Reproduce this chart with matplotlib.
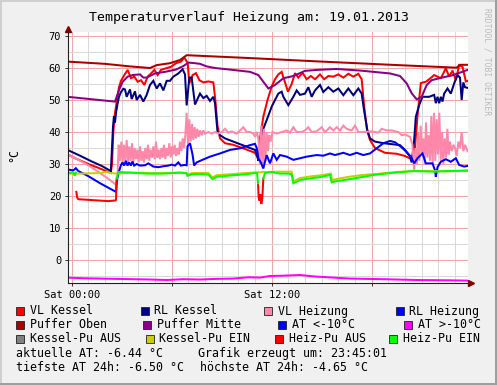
import matplotlib
matplotlib.use('Agg')
import matplotlib.pyplot as plt
import numpy as np
from matplotlib.patches import Rectangle
from matplotlib.ticker import MultipleLocator

nan = np.nan

# Stunden ab 19.01.2013 00:00, Temperatur in °C
vl_kessel = [(-0.25, 33.0), (0.3, 31.6), (1.0, 30.0), (1.7, 28.6), (2.35, 27.2), (2.42, 30.0), (2.5, 40.0),
             (2.6, 46.0), (2.72, 50.0), (2.84, 54.0), (2.96, 56.0), (3.16, 57.8), (3.36, 59.4), (3.56, 56.8),
             (3.76, 57.3), (3.96, 55.7), (4.16, 56.2), (4.36, 54.7), (4.56, 57.3), (4.76, 58.3), (4.96, 59.4),
             (5.16, 57.8), (5.36, 59.4), (5.66, 59.9), (5.96, 60.4), (6.26, 61.5), (6.56, 62.0), (6.76, 63.3),
             (6.96, 61.5), (7.06, 55.2), (7.26, 57.8), (7.46, 58.4), (7.66, 56.2), (7.9, 55.5), (8.2, 55.8),
             (8.5, 55.5), (8.62, 50.0), (8.75, 42.0), (8.9, 38.0), (9.2, 36.5), (9.7, 36.0), (10.5, 34.5),
             (11.0, 33.5), (11.15, 32.0), (11.3, 38.0), (11.5, 44.8), (11.75, 50.0), (12.0, 54.2), (12.2, 56.5),
             (12.4, 58.0), (12.6, 58.8), (12.8, 55.5), (12.98, 52.6), (13.2, 55.0), (13.4, 58.4), (13.6, 57.0),
             (13.85, 58.5), (14.1, 56.5), (14.35, 57.5), (14.6, 56.5), (14.9, 58.0), (15.15, 56.5), (15.4, 57.5),
             (15.7, 57.3), (16.0, 58.0), (16.3, 57.0), (16.6, 58.2), (16.9, 57.3), (17.2, 58.2), (17.4, 56.5),
             (17.55, 48.0), (17.72, 40.6), (17.9, 37.5), (18.2, 35.0), (18.8, 33.5), (19.5, 33.2), (20.0, 32.5),
             (20.4, 31.5), (20.6, 35.0), (20.75, 45.0), (20.95, 55.3), (21.25, 55.7), (21.55, 56.9), (21.75, 57.8),
             (22.15, 56.8), (22.45, 59.9), (22.65, 57.3), (22.85, 59.2), (23.05, 56.2), (23.25, 60.9), (23.45, 60.4),
             (23.65, 55.8), (23.75, 56.0)]

rl_kessel = [(-0.25, 34.4), (0.5, 32.6), (1.2, 30.8), (1.8, 29.4), (2.35, 27.8), (2.42, 35.0), (2.48, 41.7),
             (2.54, 45.0), (2.6, 43.0), (2.66, 46.0), (2.76, 49.0), (2.84, 51.0), (2.96, 52.5), (3.1, 53.5),
             (3.2, 53.3), (3.3, 51.0), (3.5, 53.3), (3.6, 50.3), (3.8, 52.7), (3.9, 50.0), (4.1, 51.6), (4.3, 49.5),
             (4.5, 51.6), (4.7, 54.7), (4.9, 56.0), (5.1, 53.6), (5.3, 55.2), (5.5, 53.0), (5.7, 56.0), (5.9, 56.0),
             (6.1, 57.3), (6.4, 58.3), (6.66, 59.6), (6.8, 58.0), (6.9, 48.3), (7.06, 57.0), (7.2, 57.0),
             (7.4, 48.6), (7.7, 52.0), (7.9, 50.6), (8.1, 51.3), (8.3, 49.7), (8.5, 51.0), (8.6, 49.0), (8.75, 40.0),
             (8.9, 39.0), (9.2, 38.0), (9.7, 37.0), (10.5, 35.4), (11.0, 34.4), (11.15, 32.3), (11.2, 31.0),
             (11.3, 36.5), (11.5, 41.0), (11.7, 43.7), (12.0, 47.9), (12.2, 50.0), (12.4, 52.0), (12.6, 52.6),
             (12.7, 51.0), (13.0, 48.4), (13.3, 51.0), (13.5, 53.0), (13.7, 51.6), (14.0, 52.0), (14.2, 54.0),
             (14.4, 51.0), (14.6, 53.0), (14.9, 54.7), (15.1, 52.5), (15.4, 54.0), (15.7, 52.6), (16.0, 53.6),
             (16.3, 51.5), (16.6, 53.6), (16.9, 51.5), (17.2, 53.6), (17.4, 52.0), (17.54, 46.9), (17.74, 40.6),
             (17.9, 38.0), (18.2, 37.0), (18.7, 36.5), (19.7, 35.9), (20.0, 34.4), (20.3, 32.3), (20.4, 30.5),
             (20.55, 37.5), (20.65, 44.8), (20.85, 48.4), (21.05, 51.0), (21.45, 51.0), (21.75, 51.6), (21.85, 49.0),
             (21.95, 51.0), (22.05, 49.0), (22.15, 51.0), (22.25, 49.5), (22.35, 52.0), (22.55, 53.6), (22.75, 52.0),
             (22.95, 55.2), (23.15, 57.8), (23.3, 57.0), (23.4, 50.0), (23.5, 55.5), (23.6, 54.0), (23.75, 53.8)]

vl_heizung = [(-0.25, 33.0), (0.3, 31.6), (1.0, 29.6), (1.7, 27.2), (2.3, 25.0), (2.66, 23.5), (2.75, 26.0),
              (2.82, 36.0), (2.9, 31.0), (2.98, 37.0), (3.06, 30.5), (3.14, 36.0), (3.22, 31.0), (3.3, 37.5),
              (3.38, 30.5), (3.46, 35.5), (3.54, 31.0), (3.62, 36.5), (3.7, 30.5), (3.78, 35.0), (3.86, 31.5),
              (3.94, 34.5), (4.02, 30.5), (4.1, 35.5), (4.18, 31.0), (4.26, 34.0), (4.34, 30.5), (4.42, 35.0),
              (4.5, 31.5), (4.58, 36.0), (4.66, 31.0), (4.74, 34.5), (4.82, 32.0), (4.9, 35.5), (4.98, 31.5),
              (5.06, 37.0), (5.14, 32.0), (5.22, 34.5), (5.3, 31.5), (5.38, 35.0), (5.46, 32.0), (5.54, 36.0),
              (5.62, 31.5), (5.7, 35.0), (5.78, 32.5), (5.86, 36.5), (5.94, 32.0), (6.02, 35.5), (6.1, 33.0),
              (6.18, 36.0), (6.26, 32.5), (6.34, 35.0), (6.42, 33.0), (6.5, 37.0), (6.58, 34.0), (6.66, 38.0),
              (6.74, 35.0), (6.82, 39.0), (6.9, 46.0), (6.98, 36.0), (7.06, 44.0), (7.14, 37.0), (7.22, 42.5),
              (7.3, 37.5), (7.38, 41.5), (7.46, 38.0), (7.54, 41.0), (7.62, 38.5), (7.7, 40.5), (7.8, 39.0),
              (7.9, 40.5), (8.0, 39.5), (8.2, 40.0), (8.4, 39.5), (8.6, 40.0), (8.8, 39.5), (9.0, 40.0), (9.2, 41.0),
              (9.4, 39.8), (9.6, 40.2), (9.9, 39.5), (10.1, 40.5), (10.3, 41.5), (10.5, 40.0), (10.7, 40.0),
              (10.9, 39.5), (11.0, 38.5), (11.1, 40.0), (11.2, 38.0), (11.3, 30.0), (11.38, 42.0), (11.46, 29.0),
              (11.54, 41.0), (11.62, 31.0), (11.7, 40.0), (11.78, 34.0), (11.86, 39.0), (11.94, 37.0), (12.05, 40.0),
              (12.3, 39.5), (12.6, 40.0), (12.9, 40.5), (13.1, 39.8), (13.3, 41.5), (13.5, 40.0), (13.8, 40.0),
              (14.0, 40.5), (14.2, 41.5), (14.4, 40.0), (14.7, 40.2), (15.0, 41.5), (15.2, 40.0), (15.5, 41.5),
              (15.7, 40.5), (15.9, 41.5), (16.1, 40.5), (16.3, 42.0), (16.5, 41.0), (16.8, 40.5), (17.0, 42.0),
              (17.2, 40.0), (17.5, 40.0), (18.0, 40.2), (18.4, 39.8), (18.6, 41.0), (18.9, 40.5), (19.2, 40.5),
              (19.6, 40.0), (19.8, 39.0), (20.0, 39.2), (20.3, 38.5), (20.45, 36.0), (20.55, 28.0), (20.62, 35.0),
              (20.7, 30.0), (20.78, 40.0), (20.86, 31.0), (20.94, 42.0), (21.02, 33.0), (21.1, 38.0), (21.18, 30.0),
              (21.26, 43.0), (21.34, 32.0), (21.42, 39.0), (21.5, 31.0), (21.58, 45.0), (21.66, 30.0), (21.74, 46.0),
              (21.82, 31.0), (21.9, 44.0), (21.98, 33.0), (22.06, 46.0), (22.14, 31.0), (22.22, 40.0), (22.3, 30.0),
              (22.38, 38.0), (22.46, 32.0), (22.54, 41.0), (22.62, 33.0), (22.7, 37.0), (22.8, 34.0), (22.9, 36.0),
              (23.0, 35.0), (23.1, 32.5), (23.2, 37.0), (23.3, 35.0), (23.4, 40.0), (23.5, 34.0), (23.6, 36.0),
              (23.75, 34.0)]

rl_heizung = [(-0.25, 28.3), (0.1, 28.0), (0.25, 28.7), (0.4, 27.8), (1.0, 26.2), (1.7, 24.0), (2.3, 22.3),
              (2.66, 21.3), (2.72, 25.0), (2.8, 27.0), (2.96, 29.7), (3.05, 30.5), (3.15, 29.5), (3.25, 31.0),
              (3.35, 29.5), (3.45, 30.5), (3.55, 29.5), (3.65, 30.8), (3.75, 29.5), (3.9, 30.0), (4.1, 29.5),
              (4.4, 29.6), (4.6, 30.2), (4.9, 29.2), (5.2, 29.0), (5.5, 29.3), (5.8, 29.5), (6.0, 29.8), (6.2, 29.5),
              (6.4, 30.5), (6.55, 29.5), (6.75, 29.7), (6.9, 29.6), (6.95, 35.5), (7.1, 36.5), (7.25, 33.0),
              (7.35, 29.5), (7.5, 30.5), (7.8, 31.2), (8.3, 32.3), (8.9, 33.3), (9.5, 34.4), (10.1, 34.9),
              (10.7, 35.9), (11.0, 36.3), (11.1, 35.0), (11.2, 31.8), (11.35, 30.5), (11.5, 28.6), (11.7, 32.8),
              (11.9, 30.2), (12.1, 33.3), (12.3, 31.3), (12.5, 32.8), (12.9, 32.3), (13.3, 31.3), (13.7, 31.8),
              (14.1, 32.3), (14.7, 32.8), (15.1, 32.6), (15.5, 33.3), (15.8, 32.8), (16.3, 33.5), (16.7, 32.8),
              (17.1, 33.5), (17.5, 32.8), (17.9, 33.3), (18.3, 34.9), (18.7, 36.5), (19.1, 37.2), (19.4, 36.8),
              (19.75, 35.4), (20.05, 34.0), (20.35, 32.3), (20.55, 30.2), (20.75, 31.8), (21.05, 33.3),
              (21.25, 30.2), (21.65, 30.2), (21.8, 28.0), (21.85, 26.0), (21.95, 29.0), (22.15, 30.7),
              (22.45, 31.5), (22.75, 30.7), (23.05, 31.8), (23.25, 29.7), (23.55, 29.2), (23.75, 29.4)]

puffer_oben = [(-0.25, 62.0), (2.0, 61.3), (3.5, 60.5), (4.7, 60.0), (5.1, 60.9), (5.9, 61.5), (6.5, 62.5),
               (6.9, 64.0), (10.7, 63.1), (15.0, 62.0), (20.0, 60.8), (23.1, 60.1), (23.3, 61.0), (23.75, 61.0)]

puffer_mitte = [(-0.25, 51.0), (2.6, 49.5), (2.84, 53.1), (3.06, 55.7), (3.36, 57.3), (3.66, 57.8), (4.1, 58.0),
                (4.3, 57.0), (4.5, 57.0), (5.0, 58.3), (5.6, 58.8), (6.25, 59.5), (6.7, 60.6), (7.0, 61.7),
                (7.4, 61.5), (7.7, 61.3), (8.1, 60.5), (8.6, 60.0), (9.5, 59.5), (10.7, 58.8), (11.2, 57.8),
                (11.5, 55.7), (11.8, 53.6), (12.2, 54.7), (12.7, 56.8), (13.3, 57.5), (14.0, 59.1), (14.7, 59.4),
                (15.9, 59.7), (17.3, 59.2), (19.1, 58.3), (19.7, 57.5), (20.1, 55.2), (20.4, 52.1), (20.7, 50.2),
                (21.0, 51.0), (21.3, 54.7), (21.6, 56.2), (22.3, 57.1), (22.9, 57.8), (23.75, 59.4)]

at_unter_10 = []

at_ueber_10 = [(-0.25, -5.5), (0.7, -5.7), (1.7, -5.8), (2.7, -5.9), (3.7, -6.0), (4.7, -6.1), (5.7, -6.25),
               (6.7, -6.0), (7.7, -6.1), (8.7, -5.9), (9.7, -5.8), (10.6, -5.4), (11.3, -5.5), (11.9, -5.0),
               (12.7, -4.9), (13.7, -4.7), (14.7, -5.2), (15.7, -5.5), (16.7, -5.8), (18.7, -6.0), (20.7, -6.25),
               (22.7, -6.35), (23.75, -6.44)]

kessel_pu_aus = []

kessel_pu_ein = [(-0.25, 27.0), (0.5, 27.0), (1.2, 27.1), (1.8, 27.2), (2.1, 27.6), (2.3, 27.2), (2.7, 27.0),
                 (3.5, 27.3), (5.0, 27.1), (6.5, 27.3), (6.9, 27.2), (6.95, 26.8), (7.3, 27.2), (8.2, 27.2),
                 (8.45, 25.8), (8.7, 26.5), (9.5, 26.8), (10.5, 27.2), (11.2, 27.4), (11.6, 27.5), (12.5, 27.6),
                 (13.2, 27.6), (13.3, 24.6), (13.7, 25.6), (14.3, 26.1), (15.0, 26.5), (15.55, 27.0), (15.62, 25.0),
                 (16.5, 25.9), (17.5, 26.6), (18.5, 27.0), (19.5, 27.5), (20.5, 27.8), (21.5, 27.8), (22.5, 27.7),
                 (23.75, 28.0)]

heiz_pu_aus = [(0.28, 21.3), (0.33, 19.5), (0.4, 19.0), (1.0, 18.8), (1.6, 18.6), (2.2, 18.4), (2.62, 18.6),
               (2.66, 18.8), (2.7, 25.5), (2.72, nan), (11.18, 24.0), (11.22, 19.5), (11.28, 18.5),
               (11.32, 20.5), (11.38, 17.5), (11.44, 19.5), (11.5, 25.5)]

heiz_pu_ein = [(-0.25, 27.3), (0.1, 27.3), (0.18, 26.3), (0.25, 27.3), (0.28, nan), (2.72, 25.5), (2.8, 27.5),
               (3.5, 27.3), (4.5, 27.0), (5.5, 27.0), (6.5, 27.3), (6.88, 27.1), (6.95, 26.3), (7.2, 26.8),
               (7.6, 26.9), (8.2, 26.7), (8.45, 25.3), (8.7, 26.0), (9.5, 26.4), (10.5, 26.8), (11.0, 27.2),
               (11.12, 27.2), (11.18, 24.0), (11.2, nan), (11.5, 25.5), (11.6, 27.2), (12.0, 27.5), (12.5, 27.0),
               (13.0, 27.0), (13.2, 26.8), (13.3, 24.0), (13.7, 25.0), (14.3, 25.5), (14.9, 25.9), (15.5, 26.6),
               (15.6, 24.3), (15.75, 24.5), (16.95, 25.5), (18.15, 26.6), (19.35, 27.3), (20.55, 27.8),
               (21.75, 27.6), (22.5, 27.8), (23.75, 27.9)]

labels = ['VL Kessel', 'RL Kessel', 'VL Heizung', 'RL Heizung',
          'Puffer Oben', 'Puffer Mitte', 'AT <-10°C', 'AT >-10°C',
          'Kessel-Pu AUS', 'Kessel-Pu EIN', 'Heiz-Pu AUS', 'Heiz-Pu EIN']
series = [vl_kessel, rl_kessel, vl_heizung, rl_heizung,
          puffer_oben, puffer_mitte, at_unter_10, at_ueber_10,
          kessel_pu_aus, kessel_pu_ein, heiz_pu_aus, heiz_pu_ein]
colors = ['#FF0000', '#000080', '#FF88AA', '#0000FF',
          '#AA0000', '#880088', '#0000FF', '#FF00FF',
          '#808080', '#CCCC00', '#FF0000', '#00FF00']

datum = '19.01.2013'
erzeugt = '23:45:01'
at_aktuell, at_min, at_max = -6.44, -6.50, -4.65

W, H = 497, 385
mono = 'DejaVu Sans Mono'
plt.rcParams['font.family'] = mono

fig = plt.figure(figsize=(W / 100, H / 100), dpi=100, facecolor='#F0F0F0')

# 3D-Rahmen wie rrdtool
for x0, y0, w, h, c in [(0, H - 2, W, 2, '#CFCFCF'), (0, 0, 2, H, '#CFCFCF'),
                        (0, 0, W, 2, '#9E9E9E'), (W - 2, 0, 2, H, '#9E9E9E')]:
    fig.add_artist(Rectangle((x0 / W, y0 / H), w / W, h / H, transform=fig.transFigure,
                             facecolor=c, edgecolor='none'))

left, right, top, bottom = 67.5, 467.5, 32.0, 283.3
ax = fig.add_axes([left / W, 1 - bottom / H, (right - left) / W, (bottom - top) / H])
ax.set_facecolor('white')
ax.set_xlim(-0.25, 23.75)
ax.set_ylim(-(bottom - 260) / 3.2, (260 - top) / 3.2)

# Gitter
ax.xaxis.set_minor_locator(MultipleLocator(1))
ax.yaxis.set_minor_locator(MultipleLocator(5))
ax.set_xticks([0, 6, 12, 18])
ax.set_xticklabels(['Sat 00:00', '', 'Sat 12:00', ''])
ax.set_yticks(np.arange(0, 71, 10))
ax.grid(which='minor', color='#D9D9D9', lw=0.75)
ax.grid(which='major', color='#F2A8A8', lw=0.75)
ax.set_axisbelow(True)
ax.tick_params(which='major', length=2, width=0.7, labelsize=7.5, pad=2.5, color='#303030')
ax.tick_params(which='minor', length=0)
for s in ['top', 'right']:
    ax.spines[s].set_visible(False)
for s in ['left', 'bottom']:
    ax.spines[s].set_color('#202020')
    ax.spines[s].set_linewidth(0.8)

for data, c in zip(series, colors):
    if not data:
        continue
    t, v = zip(*data)
    ax.plot(t, v, color=c, lw=1.45, solid_joinstyle='miter')

# Pfeile an den Achsen
ax.plot([1.0075], [0], marker='>', ms=4.5, color='#800000', transform=ax.transAxes, clip_on=False)
ax.plot([0], [1.013], marker='^', ms=4.5, color='#800000', transform=ax.transAxes, clip_on=False)

fig.text(249 / W, 1 - 17 / H, 'Temperaturverlauf Heizung am: ' + datum, ha='center', va='center',
         fontsize=9.5, color='#000000')
fig.text(14 / W, 1 - 155 / H, '°C', rotation=90, ha='center', va='center', fontsize=8.4)
fig.text(487 / W, 1 - 62 / H, 'RRDTOOL / TOBI OETIKER', rotation=270, ha='center', va='center',
         fontsize=5.8, color='#BBBBBB')

# Legende
legend_pos = [(16.3, 311), (140.7, 311), (264.3, 311), (395.7, 311),
              (16.3, 325), (143.3, 325), (278.3, 325), (404.3, 325),
              (16.3, 339), (145.7, 339), (275.0, 339), (389.3, 339)]
for (sx, sy), lab, c in zip(legend_pos, labels, colors):
    fig.add_artist(Rectangle((sx / W, 1 - (sy + 4) / H), 8 / W, 8 / H, transform=fig.transFigure,
                             facecolor=c, edgecolor='#202020', lw=0.6))
    fig.text((sx + 13.7) / W, 1 - sy / H, lab, ha='left', va='center', fontsize=8.4)

fig.text(16 / W, 1 - 353.3 / H, 'aktuelle AT: %.2f °C' % at_aktuell, ha='left', va='center', fontsize=8.4)
fig.text(198 / W, 1 - 353.3 / H, 'Grafik erzeugt um: ' + erzeugt, ha='left', va='center', fontsize=8.4)
fig.text(16 / W, 1 - 367.3 / H, 'tiefste AT 24h: %.2f °C' % at_min, ha='left', va='center', fontsize=8.4)
fig.text(200 / W, 1 - 367.3 / H, 'höchste AT 24h: %.2f °C' % at_max, ha='left', va='center', fontsize=8.4)

fig.savefig('out.png', dpi=100, facecolor=fig.get_facecolor())
